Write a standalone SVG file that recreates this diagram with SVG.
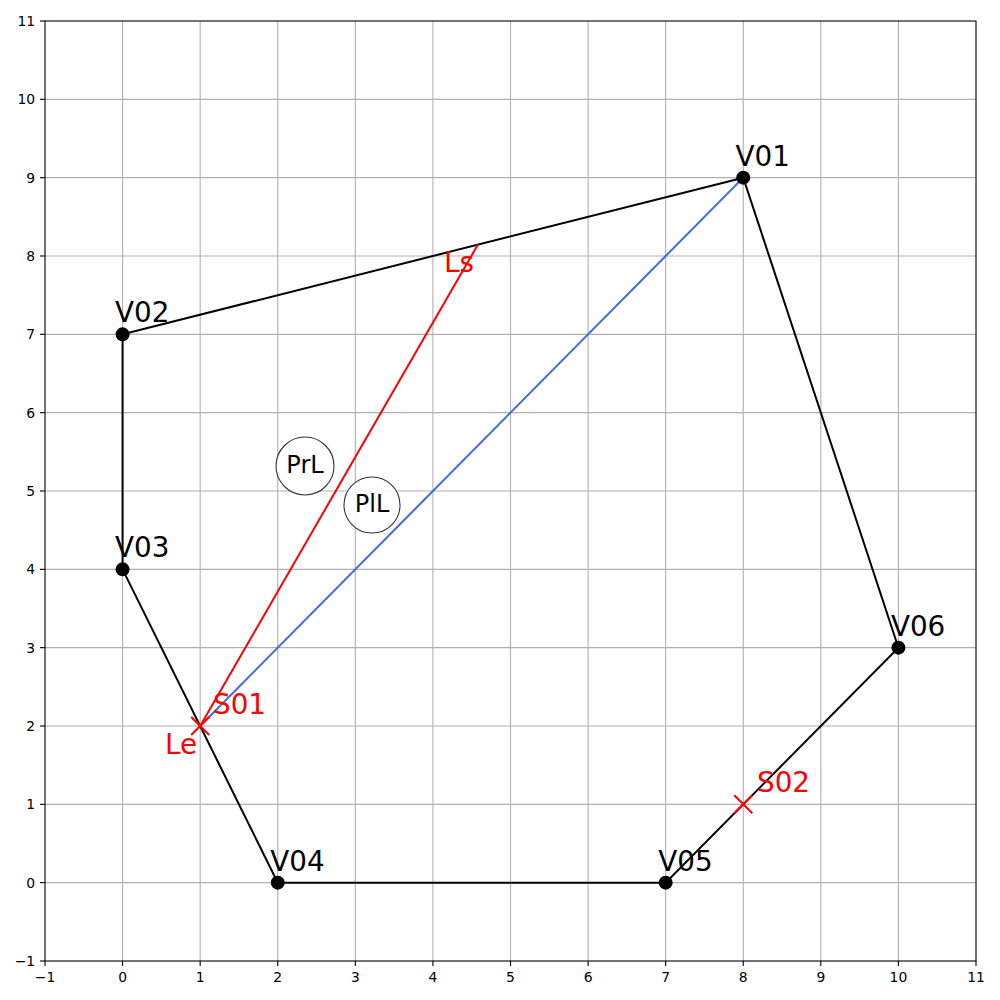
<svg xmlns="http://www.w3.org/2000/svg" width="1000" height="1000" viewBox="0 0 1000 1000">
<style>
text{font-family:"DejaVu Sans","Liberation Sans",sans-serif}
.grid line{stroke:#b0b0b0;stroke-width:1.1}
.tick line{stroke:#000;stroke-width:1.1}
.tl{font-size:13.9px;fill:#000}
.yl{text-anchor:end}
.xl{text-anchor:middle}
.edge{stroke:#000;stroke-width:2;fill:none}
.vtx{fill:#000}
.lbl{font-size:27.8px;fill:#000}
.red{fill:#ff0000}
.xm{stroke:#ff0000;stroke-width:2}
.reg circle{fill:#fff;fill-opacity:0.9;stroke:#333;stroke-width:1.1}
.reg text{font-size:24px;fill:#000;text-anchor:middle}
</style>
<rect width="1000" height="1000" fill="#fff"/>
<g class="grid">
<line x1="122.58" y1="21" x2="122.58" y2="961"/>
<line x1="200.17" y1="21" x2="200.17" y2="961"/>
<line x1="277.75" y1="21" x2="277.75" y2="961"/>
<line x1="355.33" y1="21" x2="355.33" y2="961"/>
<line x1="432.92" y1="21" x2="432.92" y2="961"/>
<line x1="510.5" y1="21" x2="510.5" y2="961"/>
<line x1="588.08" y1="21" x2="588.08" y2="961"/>
<line x1="665.67" y1="21" x2="665.67" y2="961"/>
<line x1="743.25" y1="21" x2="743.25" y2="961"/>
<line x1="820.83" y1="21" x2="820.83" y2="961"/>
<line x1="898.42" y1="21" x2="898.42" y2="961"/>
<line x1="45" y1="882.67" x2="976" y2="882.67"/>
<line x1="45" y1="804.33" x2="976" y2="804.33"/>
<line x1="45" y1="726" x2="976" y2="726"/>
<line x1="45" y1="647.67" x2="976" y2="647.67"/>
<line x1="45" y1="569.33" x2="976" y2="569.33"/>
<line x1="45" y1="491" x2="976" y2="491"/>
<line x1="45" y1="412.67" x2="976" y2="412.67"/>
<line x1="45" y1="334.33" x2="976" y2="334.33"/>
<line x1="45" y1="256" x2="976" y2="256"/>
<line x1="45" y1="177.67" x2="976" y2="177.67"/>
<line x1="45" y1="99.33" x2="976" y2="99.33"/>
</g>
<g id="connectors">
<polygon class="edge" points="743.25,177.67 122.58,334.33 122.58,569.33 277.75,882.67 665.67,882.67 898.42,647.67"/>
<line x1="200.17" y1="726" x2="743.25" y2="177.67" stroke="#4169e1" stroke-width="2"/>
<line x1="200.17" y1="726" x2="477.9" y2="244.6" stroke="#ff0000" stroke-width="2"/>
</g>
<g id="V01"><circle class="vtx" cx="743.25" cy="177.67" r="7"/><text class="lbl" x="735.5" y="166">V01</text></g>
<g id="V02"><circle class="vtx" cx="122.58" cy="334.33" r="7"/><text class="lbl" x="115" y="322">V02</text></g>
<g id="V03"><circle class="vtx" cx="122.58" cy="569.33" r="7"/><text class="lbl" x="115" y="557">V03</text></g>
<g id="V04"><circle class="vtx" cx="277.75" cy="882.67" r="7"/><text class="lbl" x="270.2" y="870.7">V04</text></g>
<g id="V05"><circle class="vtx" cx="665.67" cy="882.67" r="7"/><text class="lbl" x="658.2" y="870.7">V05</text></g>
<g id="V06"><circle class="vtx" cx="898.42" cy="647.67" r="7"/><text class="lbl" x="890.9" y="635.7">V06</text></g>
<g id="S01"><path class="xm" d="M191.2,717 L209.2,735 M191.2,735 L209.2,717"/><text class="lbl red" x="213" y="714">S01</text><text class="lbl red" x="197" y="754" text-anchor="end">Le</text></g>
<g id="S02"><path class="xm" d="M734.25,795.33 L752.25,813.33 M734.25,813.33 L752.25,795.33"/><text class="lbl red" x="757" y="792.3">S02</text></g>
<g id="Ls"><text class="lbl red" x="474" y="272" text-anchor="end">Ls</text></g>
<g id="PrL" class="reg"><circle cx="305" cy="466" r="29"/><text x="305" y="473">PrL</text></g>
<g id="PlL" class="reg"><circle cx="372" cy="505" r="28"/><text x="372" y="512">PlL</text></g>
<rect x="45" y="21" width="931" height="940" fill="none" stroke="#000" stroke-width="1.1"/>
<g class="tick">
<line x1="45" y1="961" x2="45" y2="966"/>
<line x1="122.58" y1="961" x2="122.58" y2="966"/>
<line x1="200.17" y1="961" x2="200.17" y2="966"/>
<line x1="277.75" y1="961" x2="277.75" y2="966"/>
<line x1="355.33" y1="961" x2="355.33" y2="966"/>
<line x1="432.92" y1="961" x2="432.92" y2="966"/>
<line x1="510.5" y1="961" x2="510.5" y2="966"/>
<line x1="588.08" y1="961" x2="588.08" y2="966"/>
<line x1="665.67" y1="961" x2="665.67" y2="966"/>
<line x1="743.25" y1="961" x2="743.25" y2="966"/>
<line x1="820.83" y1="961" x2="820.83" y2="966"/>
<line x1="898.42" y1="961" x2="898.42" y2="966"/>
<line x1="976" y1="961" x2="976" y2="966"/>
<line x1="40" y1="961" x2="45" y2="961"/>
<line x1="40" y1="882.67" x2="45" y2="882.67"/>
<line x1="40" y1="804.33" x2="45" y2="804.33"/>
<line x1="40" y1="726" x2="45" y2="726"/>
<line x1="40" y1="647.67" x2="45" y2="647.67"/>
<line x1="40" y1="569.33" x2="45" y2="569.33"/>
<line x1="40" y1="491" x2="45" y2="491"/>
<line x1="40" y1="412.67" x2="45" y2="412.67"/>
<line x1="40" y1="334.33" x2="45" y2="334.33"/>
<line x1="40" y1="256" x2="45" y2="256"/>
<line x1="40" y1="177.67" x2="45" y2="177.67"/>
<line x1="40" y1="99.33" x2="45" y2="99.33"/>
<line x1="40" y1="21" x2="45" y2="21"/>
</g>
<g class="tl xl">
<text x="45" y="982">−1</text>
<text x="122.58" y="982">0</text>
<text x="200.17" y="982">1</text>
<text x="277.75" y="982">2</text>
<text x="355.33" y="982">3</text>
<text x="432.92" y="982">4</text>
<text x="510.5" y="982">5</text>
<text x="588.08" y="982">6</text>
<text x="665.67" y="982">7</text>
<text x="743.25" y="982">8</text>
<text x="820.83" y="982">9</text>
<text x="898.42" y="982">10</text>
<text x="976" y="982">11</text>
</g>
<g class="tl yl">
<text x="35.2" y="966">−1</text>
<text x="35.2" y="887.7">0</text>
<text x="35.2" y="809.3">1</text>
<text x="35.2" y="731">2</text>
<text x="35.2" y="652.7">3</text>
<text x="35.2" y="574.3">4</text>
<text x="35.2" y="496">5</text>
<text x="35.2" y="417.7">6</text>
<text x="35.2" y="339.3">7</text>
<text x="35.2" y="261">8</text>
<text x="35.2" y="182.7">9</text>
<text x="35.2" y="104.3">10</text>
<text x="35.2" y="26">11</text>
</g>
</svg>
